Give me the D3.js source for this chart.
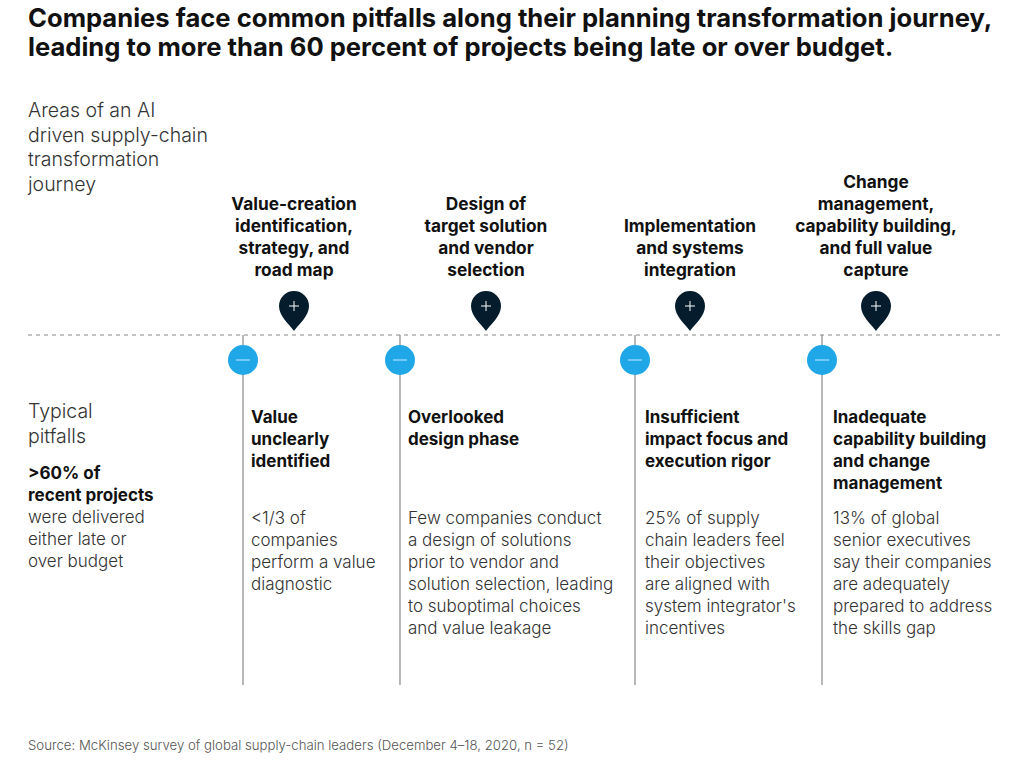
<!DOCTYPE html>
<html><head><meta charset="utf-8">
<script src="https://cdn.jsdelivr.net/npm/d3@7"></script>
<style>body{margin:0;background:#fff}text{font-family:"Inter","Noto Sans",sans-serif}</style>
</head><body><svg id="c" width="1024" height="762"></svg>
<script>
const titleLines=["Companies face common pitfalls along their planning transformation journey,","leading to more than 60 percent of projects being late or over budget."];
const stages=[["Value-creation","identification,","strategy, and","road map"],["Design of","target solution","and vendor","selection"],["Implementation","and systems","integration"],["Change","management,","capability building,","and full value","capture"]];
const pitfalls=[["Value","unclearly","identified"],["Overlooked","design phase"],["Insufficient","impact focus and","execution rigor"],["Inadequate","capability building","and change","management"]];
const descs=[["<1/3 of","companies","perform a value","diagnostic"],["Few companies conduct","a design of solutions","prior to vendor and","solution selection, leading","to suboptimal choices","and value leakage"],["25% of supply","chain leaders feel","their objectives","are aligned with","system integrator's","incentives"],["13% of global","senior executives","say their companies","are adequately","prepared to address","the skills gap"]];
const source="Source: McKinsey survey of global supply-chain leaders (December 4–18, 2020, n = 52)";
const svg=d3.select("#c");
const idx=d3.range(4);
const xPin=d3.scaleOrdinal(idx,[294,486,690,876]);
const xLine=d3.scaleOrdinal(idx,[243,400,635,822]);
const xText=d3.scaleOrdinal(idx,[251,408,645,833]);
const y=d3.scaleLinear([0,1],[335,685]);
const dark="#051c2c",blue="#1fa7e8",ink="#222";
function lines(g,arr,x,y0,dy,opts){arr.forEach((t,i)=>{const e=g.append("text").attr("x",x).attr("y",y0+i*dy).text(t).attr("font-size",opts.size).attr("fill",opts.fill||ink).attr("font-weight",opts.weight||400);if(opts.anchor)e.attr("text-anchor",opts.anchor);});}
lines(svg,titleLines,28,27,29,{size:25.6,weight:700,fill:"#111"});
lines(svg,["Areas of an AI","driven supply-chain","transformation","journey"],28,117,24.5,{size:19.5,weight:300,fill:"#333"});
lines(svg,["Typical","pitfalls"],28,418,24.5,{size:19.5,weight:300,fill:"#333"});
lines(svg,[">60% of","recent projects"],28,479,22,{size:17,weight:700,fill:"#111"});
lines(svg,["were delivered","either late or","over budget"],28,523,22,{size:17,weight:300,fill:"#333"});
svg.append("line").attr("x1",28).attr("x2",1000).attr("y1",y(0)).attr("y2",y(0)).attr("stroke","#888").attr("stroke-dasharray","4,4");
idx.forEach(i=>{
  svg.append("line").attr("x1",xLine(i)).attr("x2",xLine(i)).attr("y1",y(0)).attr("y2",y(1)).attr("stroke","#888").attr("stroke-width",1.2);
  const st=stages[i],n=st.length;
  lines(svg,st,xPin(i),276-(n-1)*22,22,{size:17.3,weight:700,anchor:"middle",fill:"#111"});
  const px=xPin(i),tip=331,cy=306,r=15;
  svg.append("path").attr("d",`M${px},${tip} C${px-5},${cy+18} ${px-r},${cy+10} ${px-r},${cy} A${r},${r} 0 1 1 ${px+r},${cy} C${px+r},${cy+10} ${px+5},${cy+18} ${px},${tip}Z`).attr("fill",dark);
  svg.append("path").attr("d",`M${px-5},${cy}H${px+5}M${px},${cy-5}V${cy+5}`).attr("stroke","#fff").attr("stroke-width",1);
  const lx=xLine(i);
  svg.append("circle").attr("cx",lx).attr("cy",360).attr("r",15).attr("fill",blue);
  svg.append("line").attr("x1",lx-7).attr("x2",lx+7).attr("y1",360).attr("y2",360).attr("stroke","#9fdcff").attr("stroke-width",1.3);
  lines(svg,pitfalls[i],xText(i),423,22,{size:17,weight:700,fill:"#111"});
  lines(svg,descs[i],xText(i),524,22,{size:17,weight:300,fill:"#333"});
});
svg.append("text").attr("x",28).attr("y",750).text(source).attr("font-size",13.2).attr("fill","#555").attr("font-weight",300);
</script></body></html>
